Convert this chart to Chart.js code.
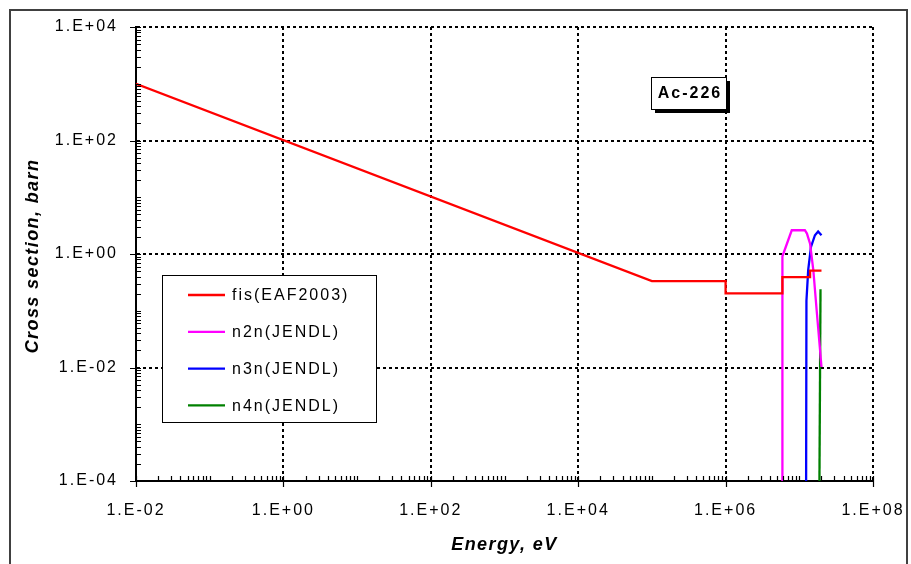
<!DOCTYPE html>
<html>
<head>
<meta charset="utf-8">
<script src="https://cdn.jsdelivr.net/npm/chart.js@4.4.0/dist/chart.umd.min.js"></script>
<style>
  html, body { margin: 0; padding: 0; background: #fff; }
</style>
</head>
<body>
<canvas id="xs-chart" width="911" height="564"></canvas>
<script>
// energies in eV, cross sections in barn
var fisEnergy = [1e-2, 1e5, 1e6, 1e6, 5.9e6, 5.9e6, 1.4e7, 1.4e7, 2e7];
var fisXs     = [1000, 0.334, 0.334, 0.203, 0.203, 0.39, 0.39, 0.51, 0.51];

var n2nEnergy = [5.9e6, 5.9e6, 7.9e6, 1.19e7, 1.27e7, 1.4e7, 1.55e7, 1.72e7, 2e7];
var n2nXs     = [1e-6, 0.91, 2.62, 2.62, 2.29, 1.52, 0.52, 0.102, 0.0102];

var n3nEnergy = [1.23e7, 1.25e7, 1.32e7, 1.44e7, 1.63e7, 1.8e7, 2e7];
var n3nXs     = [1e-6, 0.15, 0.52, 1.33, 2.14, 2.5, 2.14];

var n4nEnergy = [1.84e7, 1.94e7];
var n4nXs     = [1e-6, 0.24];

var seriesLabels = ["fis(EAF2003)", "n2n(JENDL)", "n3n(JENDL)", "n4n(JENDL)"];
var seriesColors = ["#ff0000", "#ff00ff", "#0000ff", "#008000"];

var xMinExp = -2, xMaxExp = 8;
var yMinExp = -4, yMaxExp = 4;

function toPoints(xs, ys) {
  return xs.map(function (x, i) { return { x: x, y: ys[i] }; });
}

function logTicks(minExp, maxExp) {
  var t = [];
  for (var e = minExp; e < maxExp; e++) {
    for (var m = 1; m < 10; m++) t.push({ value: m * Math.pow(10, e) });
  }
  t.push({ value: Math.pow(10, maxExp) });
  return t;
}

function isDecade(v) {
  var l = Math.log10(v);
  return Math.abs(l - Math.round(l)) < 1e-6;
}

function isMajor(v) {
  return isDecade(v) && Math.round(Math.log10(v)) % 2 === 0;
}

function sciLabel(v) {
  var e = Math.round(Math.log10(v));
  var a = Math.abs(e);
  return "1.E" + (e < 0 ? "-" : "+") + (a < 10 ? "0" + a : a);
}

var FONT = "'Liberation Sans', Arial, sans-serif";

// tick marks, axis titles, legend box, label box and outer frame
var decorPlugin = {
  id: "decor",
  beforeDraw: function (chart) {
    var ctx = chart.ctx;
    ctx.save();
    ctx.fillStyle = "#fff";
    ctx.fillRect(0, 0, chart.width, chart.height);
    ctx.restore();
    ctx.letterSpacing = "2px";
  },
  afterDraw: function (chart) {
    var ctx = chart.ctx;
    var xs = chart.scales.x, ys = chart.scales.y;
    var area = chart.chartArea;

    ctx.save();
    ctx.strokeStyle = "#000";
    ctx.lineWidth = 1.2;
    ctx.beginPath();
    ys.ticks.forEach(function (t) {
      var py = Math.round(ys.getPixelForValue(t.value)) + 0.5;
      if (isMajor(t.value)) {
        ctx.moveTo(area.left - 6, py); ctx.lineTo(area.left + 5, py);
      } else {
        ctx.moveTo(area.left, py); ctx.lineTo(area.left + 5, py);
      }
    });
    xs.ticks.forEach(function (t) {
      var px = Math.round(xs.getPixelForValue(t.value)) + 0.5;
      if (isMajor(t.value)) {
        ctx.moveTo(px, area.bottom + 6); ctx.lineTo(px, area.bottom - 5);
      } else {
        ctx.moveTo(px, area.bottom); ctx.lineTo(px, area.bottom - 5);
      }
    });
    ctx.stroke();
    ctx.restore();

    // axis titles
    ctx.save();
    ctx.fillStyle = "#000";
    ctx.letterSpacing = "1.4px";
    ctx.font = "italic bold 18px " + FONT;
    ctx.textAlign = "center";
    ctx.textBaseline = "alphabetic";
    ctx.fillText("Energy, eV", (area.left + area.right) / 2, 550);
    ctx.translate(38, 256);
    ctx.rotate(-Math.PI / 2);
    ctx.fillText("Cross section, barn", 0, 0);
    ctx.restore();

    // legend
    ctx.save();
    ctx.fillStyle = "#fff";
    ctx.fillRect(162.5, 275.5, 214, 147);
    ctx.strokeStyle = "#000";
    ctx.lineWidth = 1;
    ctx.strokeRect(162.5, 275.5, 214, 147);
    ctx.font = "16px " + FONT;
    ctx.letterSpacing = "2px";
    ctx.textAlign = "left";
    ctx.textBaseline = "middle";
    chart.data.datasets.forEach(function (ds, i) {
      var ry = 295 + i * 36.8;
      ctx.strokeStyle = ds.borderColor;
      ctx.lineWidth = 2.3;
      ctx.beginPath();
      ctx.moveTo(188, ry); ctx.lineTo(225, ry);
      ctx.stroke();
      ctx.fillStyle = "#000";
      ctx.fillText(ds.label, 232, ry + 1);
    });
    ctx.restore();

    // nuclide label with shadow
    ctx.save();
    ctx.fillStyle = "#000";
    ctx.fillRect(655, 81, 75, 32);
    ctx.fillStyle = "#fff";
    ctx.fillRect(651, 77.5, 75, 32);
    ctx.strokeStyle = "#000";
    ctx.lineWidth = 1;
    ctx.strokeRect(651.5, 77.5, 75, 32);
    ctx.fillStyle = "#000";
    ctx.font = "bold 16px " + FONT;
    ctx.letterSpacing = "2px";
    ctx.textAlign = "center";
    ctx.textBaseline = "middle";
    ctx.fillText("Ac-226", 690, 94);
    ctx.restore();

    // outer frame
    ctx.save();
    ctx.strokeStyle = "#404040";
    ctx.lineWidth = 2;
    ctx.strokeRect(10, 10, 897, 620);
    ctx.restore();
  }
};

function axisOptions(minExp, maxExp, isY) {
  return {
    type: "logarithmic",
    min: Math.pow(10, minExp),
    max: Math.pow(10, maxExp),
    afterBuildTicks: function (scale) { scale.ticks = logTicks(minExp, maxExp); },
    afterFit: function (scale) {
      if (isY) scale.width = 126; else scale.height = 83;
    },
    ticks: {
      autoSkip: false,
      maxRotation: 0,
      padding: 0,
      color: "#000",
      font: { family: FONT, size: 16 },
      callback: function (v) { return isMajor(v) ? sciLabel(v) : ""; }
    },
    grid: {
      drawTicks: true,
      tickLength: isY ? 18 : 20,
      tickColor: "rgba(0,0,0,0)",
      lineWidth: 2,
      color: function (c) {
        return c.tick && isMajor(c.tick.value) ? "#000" : "rgba(0,0,0,0)";
      }
    },
    border: { display: true, color: "#000", width: 2, dash: [3, 3] }
  };
}

var datasets = [
  toPoints(fisEnergy, fisXs),
  toPoints(n2nEnergy, n2nXs),
  toPoints(n3nEnergy, n3nXs),
  toPoints(n4nEnergy, n4nXs)
].map(function (pts, i) {
  return {
    label: seriesLabels[i],
    data: pts,
    borderColor: seriesColors[i],
    backgroundColor: seriesColors[i],
    borderWidth: 2.3,
    showLine: true,
    pointRadius: 0,
    tension: 0,
    fill: false
  };
});

var ctx = document.getElementById("xs-chart").getContext("2d");
window.xsChart = new Chart(ctx, {
  type: "scatter",
  data: { datasets: datasets },
  options: {
    responsive: false,
    animation: false,
    devicePixelRatio: 1,
    layout: { padding: { left: 10, top: 27, right: 38, bottom: 0 } },
    plugins: { legend: { display: false }, tooltip: { enabled: false } },
    scales: {
      x: axisOptions(xMinExp, xMaxExp, false),
      y: axisOptions(yMinExp, yMaxExp, true)
    }
  },
  plugins: [decorPlugin]
});
</script>
</body>
</html>
